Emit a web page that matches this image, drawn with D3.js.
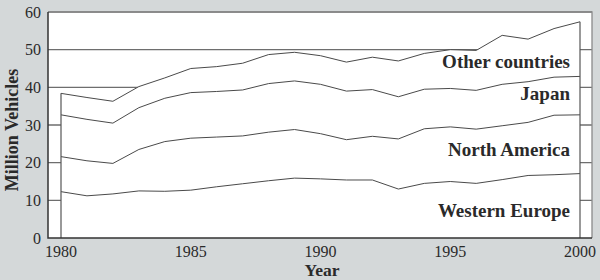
<!DOCTYPE html>
<html>
<head>
<meta charset="utf-8">
<script src="https://cdn.jsdelivr.net/npm/d3@7"></script>
<style>
  body { margin: 0; background: #d4d8d9; }
  svg { display: block; }
  text { font-family: "Liberation Serif", "DejaVu Serif", serif; fill: #2a2a2a; }
</style>
</head>
<body>
<svg id="chart" width="600" height="280"></svg>
<script>
// Data (million vehicles per region)
const years = d3.range(1980, 2001);
const westernEurope = [12.3, 11.2, 11.7, 12.5, 12.4, 12.7, 13.6, 14.4, 15.2, 15.9, 15.7, 15.4, 15.4, 13.0, 14.5, 15.0, 14.5, 15.5, 16.6, 16.8, 17.1];
const northAmerica  = [9.3, 9.3, 8.1, 11.0, 13.2, 13.8, 13.2, 12.7, 12.9, 12.9, 12.0, 10.7, 11.6, 13.3, 14.5, 14.5, 14.4, 14.3, 14.1, 15.8, 15.6];
const japan         = [11.1, 11.0, 10.7, 11.1, 11.5, 12.1, 12.1, 12.2, 12.9, 12.9, 13.1, 12.9, 12.4, 11.2, 10.5, 10.2, 10.3, 11.0, 10.8, 10.1, 10.2];
const other         = [5.7, 5.8, 5.8, 5.6, 5.4, 6.4, 6.6, 7.1, 7.7, 7.6, 7.6, 7.7, 8.6, 9.5, 9.5, 10.3, 10.6, 13.0, 11.3, 12.9, 14.5];
const seriesKeys = ['westernEurope', 'northAmerica', 'japan', 'other'];
const seriesLabels = ['Western Europe', 'North America', 'Japan', 'Other countries'];
const labelAt = [5.6, 21.8, 36.6, 45.1]; // value at each band label's baseline
const yTicks = [0, 10, 20, 30, 40, 50, 60];
const xTicks = [1980, 1985, 1990, 1995, 2000];

const table = years.map((yr, i) => ({
  year: yr,
  westernEurope: westernEurope[i],
  northAmerica: northAmerica[i],
  japan: japan[i],
  other: other[i]
}));

const svg = d3.select('#chart');
const plot = { left: 48, right: 592, top: 12, bottom: 238 };

const x = d3.scaleLinear().domain([1980, 2000]).range([61, 580]);
const y = d3.scaleLinear().domain([0, 60]).range([plot.bottom, plot.top]);

const stacked = d3.stack().keys(seriesKeys)(table);

// plot background
svg.append('rect')
  .attr('x', plot.left).attr('y', plot.top)
  .attr('width', plot.right - plot.left).attr('height', plot.bottom - plot.top)
  .attr('fill', '#fff');

// gridlines
svg.append('g')
  .selectAll('line')
  .data(yTicks.filter(d => d > 0))
  .join('line')
  .attr('x1', plot.left).attr('x2', plot.right)
  .attr('y1', d => y(d)).attr('y2', d => y(d))
  .attr('stroke', '#6e6e6e')
  .attr('stroke-width', 1.3);

// white fill under the total, hiding the gridlines
const totalLayer = stacked[stacked.length - 1];
svg.append('path')
  .datum(totalLayer)
  .attr('fill', '#fff')
  .attr('d', d3.area().x(d => x(d.data.year)).y0(y(0)).y1(d => y(d[1])));

// band boundaries
const line = d3.line().x(d => x(d.data.year)).y(d => y(d[1]));
svg.append('g')
  .selectAll('path')
  .data(stacked)
  .join('path')
  .attr('fill', 'none')
  .attr('stroke', '#4a4a4a')
  .attr('stroke-width', 1)
  .attr('d', line);

// vertical edges at first and last year
svg.append('g')
  .selectAll('line')
  .data([table[0], table[table.length - 1]])
  .join('line')
  .attr('x1', d => x(d.year)).attr('x2', d => x(d.year))
  .attr('y1', y(0))
  .attr('y2', d => y(seriesKeys.reduce((s, k) => s + d[k], 0)))
  .attr('stroke', '#555')
  .attr('stroke-width', 1.2);

// frame
svg.append('path')
  .attr('d', `M${plot.left},${plot.top}H${plot.right}V${plot.bottom}`)
  .attr('fill', 'none').attr('stroke', '#8a8a8a').attr('stroke-width', 1.3);
svg.append('path')
  .attr('d', `M${plot.left},${plot.top}V${plot.bottom}H${plot.right}`)
  .attr('fill', 'none').attr('stroke', '#333').attr('stroke-width', 1.5);

// y tick labels
svg.append('g')
  .selectAll('text')
  .data(yTicks)
  .join('text')
  .attr('x', 41)
  .attr('y', d => y(d))
  .attr('dy', '0.35em')
  .attr('text-anchor', 'end')
  .style('font-size', '16px')
  .text(d => d);

// x tick labels
svg.append('g')
  .selectAll('text')
  .data(xTicks)
  .join('text')
  .attr('x', d => x(d))
  .attr('y', 257)
  .attr('text-anchor', 'middle')
  .style('font-size', '16px')
  .text(d => d);

// axis titles
svg.append('text')
  .attr('x', 322).attr('y', 276)
  .attr('text-anchor', 'middle')
  .style('font-size', '17.5px').style('font-weight', 'bold')
  .text('Year');
svg.append('text')
  .attr('transform', 'translate(18,130) rotate(-90)')
  .attr('text-anchor', 'middle')
  .style('font-size', '18px').style('font-weight', 'bold')
  .text('Million Vehicles');

// band labels
svg.append('g')
  .selectAll('text')
  .data(seriesLabels)
  .join('text')
  .attr('x', 570)
  .attr('y', (d, i) => y(labelAt[i]))
  .attr('text-anchor', 'end')
  .style('font-size', '19px').style('font-weight', 'bold')
  .text(d => d);
</script>
</body>
</html>
